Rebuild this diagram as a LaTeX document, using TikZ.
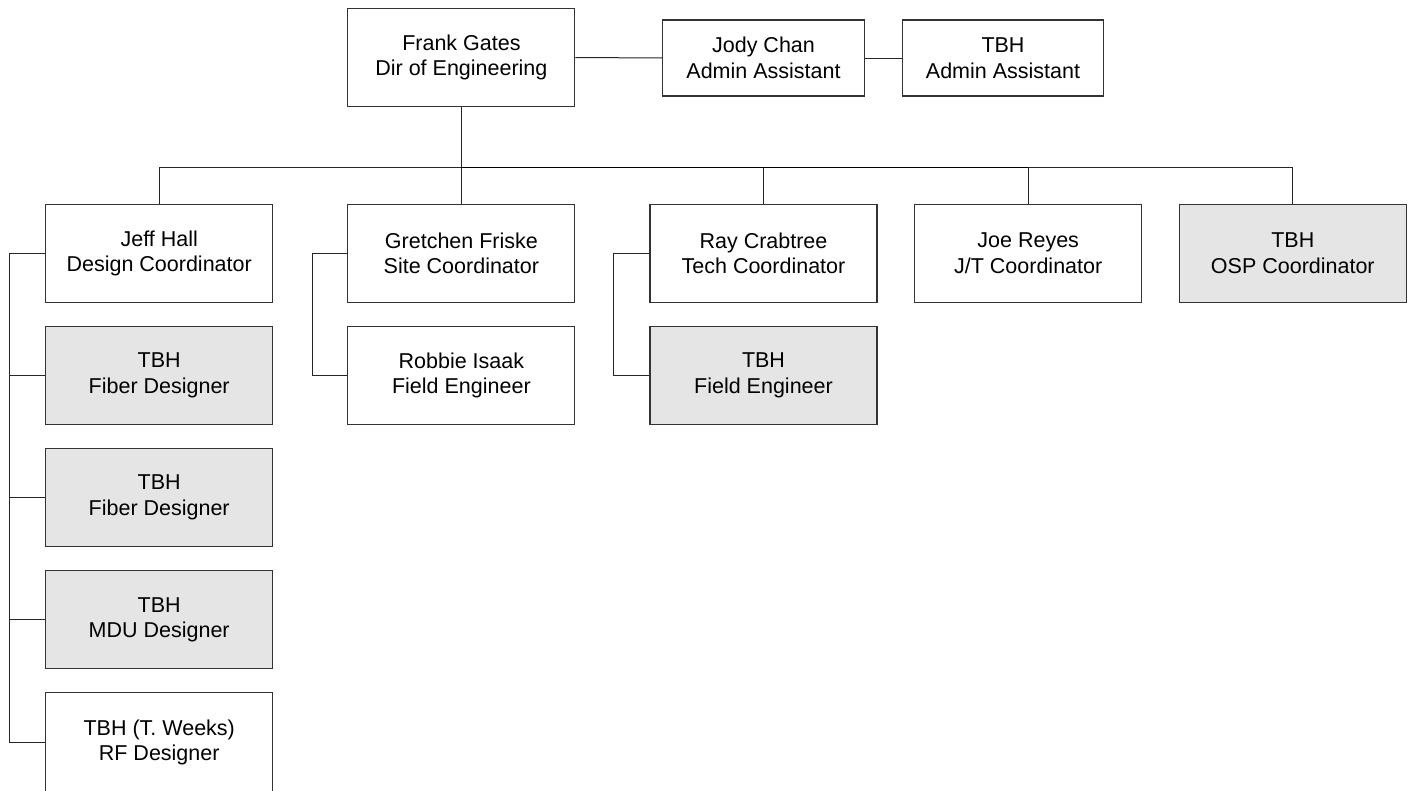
\documentclass[tikz,border=0pt]{standalone}
\usepackage{fontspec}
\setmainfont{Liberation Sans}
\usetikzlibrary{backgrounds}
\begin{document}
\begin{tikzpicture}[x=1pt,y=-1pt,
  box/.style={draw=black!80,line width=1.1pt,fill=white,minimum width=227pt,minimum height=98pt,
    inner sep=0pt,align=center,font=\fontsize{21.5}{25.5}\selectfont},
  smallbox/.style={box,minimum width=201.5pt,minimum height=76pt},
  tbh/.style={box,fill=black!10},
  conn/.style={draw=black!85,line width=1pt},
  thick conn/.style={draw=black,line width=1.6pt}]
\useasboundingbox (0,0) rectangle (1413,790);
% top
\node[box] (frank) at (461.4,57.5) {Frank Gates\\Dir of Engineering};
\node[smallbox] (jody) at (763.5,58) {Jody Chan\\Admin Assistant};
\node[smallbox] (tbhadm) at (1003,58) {TBH\\Admin Assistant};
% row 2
\node[box] (jeff) at (159.2,253.3) {Jeff Hall\\Design Coordinator};
\node[box] (gretchen) at (461.4,253.3) {Gretchen Friske\\Site Coordinator};
\node[box] (ray) at (763.5,253.3) {Ray Crabtree\\Tech Coordinator};
\node[box] (joe) at (1028.2,253.3) {Joe Reyes\\J/T Coordinator};
\node[tbh] (osp) at (1292.8,253.3) {TBH\\OSP Coordinator};
% Jeff column
\node[tbh] (fiber1) at (159.2,375.5) {TBH\\Fiber Designer};
\node[tbh] (fiber2) at (159.2,497.3) {TBH\\Fiber Designer};
\node[tbh] (mdu) at (159.2,619.7) {TBH\\MDU Designer};
\node[box,minimum height=100pt] (rf) at (159.2,742.5) {TBH (T. Weeks)\\RF Designer};
% others
\node[box] (robbie) at (461.4,375.5) {Robbie Isaak\\Field Engineer};
\node[tbh] (rayfe) at (763.5,375.5) {TBH\\Field Engineer};
% bus coordinates
\coordinate (bar) at (461.4,167.5);
\coordinate (jbus) at (9,0);
\coordinate (gbus) at (312,0);
\coordinate (rbus) at (613,0);
\begin{pgfonlayer}{background}
\fill[white] (0,0) rectangle (1413,790);
% connectors
\draw[conn] (frank.east) -- (jody.west);
\draw[conn] (jody.east) -- (tbhadm.west);
\draw[conn] (frank.south) -- (bar);
\draw[conn] (jeff.north) |- (bar);
\draw[conn] (gretchen.north) -- (bar);
\draw[conn] (joe.north) |- (bar);
\draw[conn] (ray.north) |- (bar);
\draw[conn] (osp.north) |- (bar);
\draw[thick conn] (bar) -- (bar -| joe.north);
% Jeff bus
\draw[conn] (jeff.west) -- (jeff.west -| jbus) |- (rf.west);
\draw[conn] (fiber1.west) -- (fiber1.west -| jbus);
\draw[conn] (fiber2.west) -- (fiber2.west -| jbus);
\draw[conn] (mdu.west) -- (mdu.west -| jbus);
% Gretchen bus
\draw[conn] (gretchen.west) -- (gretchen.west -| gbus) |- (robbie.west);
% Ray bus
\draw[conn] (ray.west) -- (ray.west -| rbus) |- (rayfe.west);
\end{pgfonlayer}
\end{tikzpicture}
\end{document}
